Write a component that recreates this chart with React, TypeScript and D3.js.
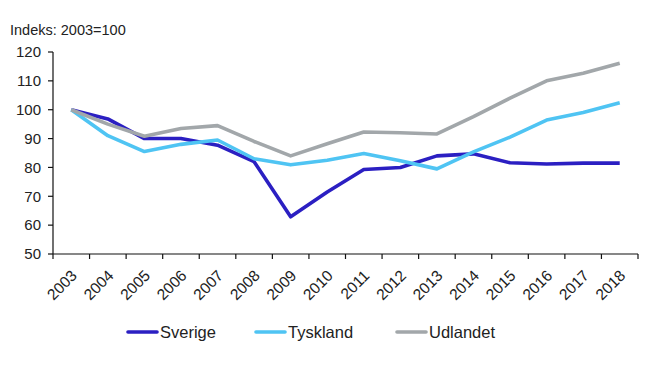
import React from 'react';
import * as d3 from 'd3';

const years = ['2003', '2004', '2005', '2006', '2007', '2008', '2009', '2010', '2011', '2012', '2013', '2014', '2015', '2016', '2017', '2018'];
const sverige = [100, 96.8, 90, 90, 87.7, 82, 62.9, 71.5, 79.3, 80, 84, 84.7, 81.6, 81.2, 81.5, 81.5];
const tyskland = [100, 91, 85.5, 88, 89.5, 83, 80.9, 82.5, 84.8, 82.3, 79.5, 85.4, 90.5, 96.4, 99, 102.4];
const udlandet = [100, 95, 90.8, 93.5, 94.5, 89, 84, 88.2, 92.3, 92, 91.6, 97.6, 104, 110, 112.6, 116.1];
const yTicks = [50, 60, 70, 80, 90, 100, 110, 120];

const series = [
  { name: 'Sverige', values: sverige, color: '#2b1fc2' },
  { name: 'Tyskland', values: tyskland, color: '#4fc4f3' },
  { name: 'Udlandet', values: udlandet, color: '#a2a7aa' },
];

const W = 648;
const H = 365;
const margin = { top: 52, right: 10, bottom: 111, left: 53 };
const font = '"Liberation Sans", Arial, sans-serif';

export default function App() {
  const x = d3
    .scaleBand()
    .domain(years)
    .range([margin.left, 638]);
  const y = d3
    .scaleLinear()
    .domain([50, 120])
    .range([H - margin.bottom, margin.top]);

  const line = d3
    .line<number>()
    .x((d, i) => x(years[i])! + x.bandwidth() / 2)
    .y(d => y(d));

  const bottom = H - margin.bottom;
  const legendX = [128, 256, 397];

  return (
    <svg
      width={W}
      height={H}
      style={{ position: 'absolute', left: 0, top: 0, background: '#fff' }}
      fontFamily={font}
    >
      <text x={10} y={35} fontSize={14.5} fill="#222">
        Indeks: 2003=100
      </text>

      {/* y axis */}
      <line x1={margin.left} x2={margin.left} y1={y(120)} y2={bottom} stroke="#111" strokeWidth={1.2} />
      {yTicks.map(t => (
        <g key={t}>
          <line x1={margin.left - 5} x2={margin.left} y1={y(t)} y2={y(t)} stroke="#111" strokeWidth={1.2} />
          <text x={41} y={y(t)} dy="0.35em" textAnchor="end" fontSize={15} fill="#222">
            {t}
          </text>
        </g>
      ))}

      {/* x axis */}
      <line x1={margin.left} x2={638} y1={bottom} y2={bottom} stroke="#111" strokeWidth={1.2} />
      {years.concat(['end']).map((yr, i) => {
        const px = i < years.length ? x(yr)! : 638;
        return <line key={yr} x1={px} x2={px} y1={bottom} y2={bottom + 5} stroke="#111" strokeWidth={1.2} />;
      })}
      {years.map(yr => {
        const cx = x(yr)! + x.bandwidth() / 2;
        return (
          <text
            key={yr}
            transform={`translate(${cx - 1},${bottom + 15}) rotate(-45)`}
            textAnchor="end"
            dy="0.7em"
            fontSize={15.5}
            fill="#222"
          >
            {yr}
          </text>
        );
      })}

      {series.map(s => (
        <path
          key={s.name}
          d={line(s.values) || ''}
          fill="none"
          stroke={s.color}
          strokeWidth={3.6}
          strokeLinejoin="round"
        />
      ))}

      {/* legend */}
      {series.map((s, i) => (
        <g key={s.name} transform={`translate(${legendX[i]},332)`}>
          <line x1={0} x2={29} y1={0} y2={0} stroke={s.color} strokeWidth={3.6} strokeLinecap="round" />
          <text x={32} y={0} dy="0.35em" fontSize={16.5} fill="#222">
            {s.name}
          </text>
        </g>
      ))}
    </svg>
  );
}
